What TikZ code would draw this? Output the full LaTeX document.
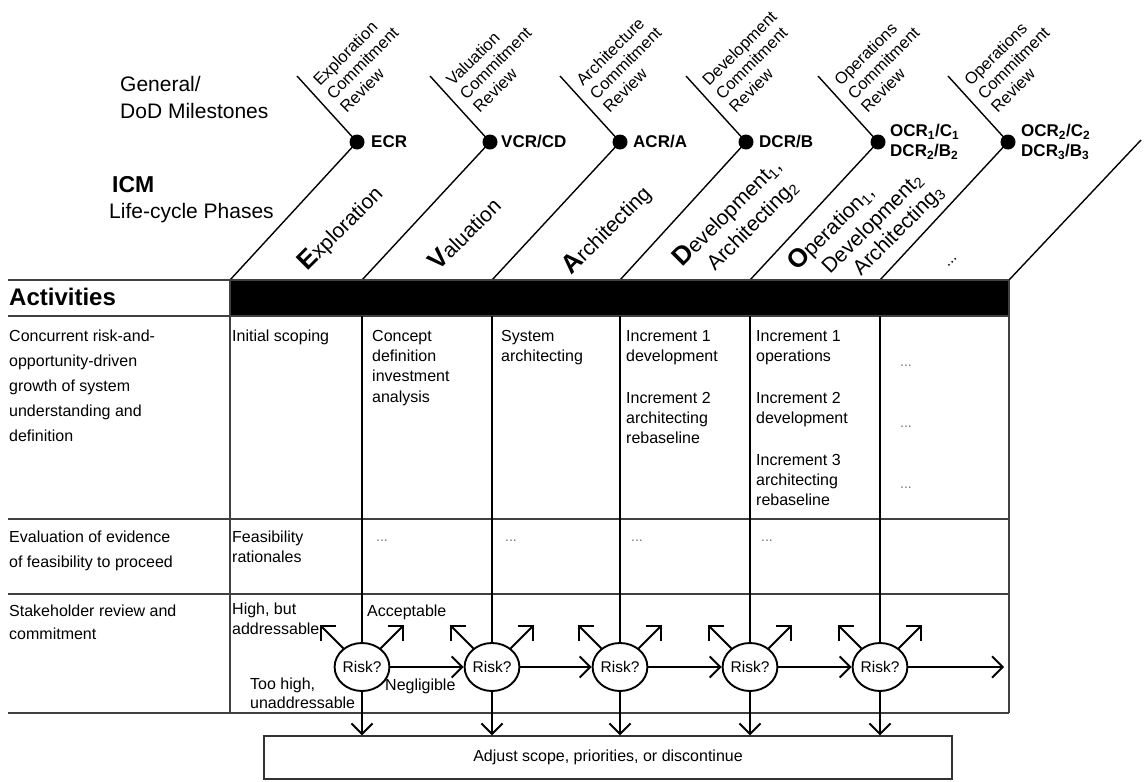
\documentclass[tikz,border=0pt]{standalone}
\usepackage{fontspec}
\setmainfont{Liberation Sans}
\usetikzlibrary{arrows.meta,shapes.geometric,calc}
\newcommand{\fsz}[1]{\fontsize{#1}{#1}\selectfont}
\newcommand{\bigini}[1]{{\fontsize{26}{26}\selectfont\bfseries #1}}
\begin{document}
\begin{tikzpicture}[x=1pt,y=-1pt,
  txt/.style={anchor=base west, inner sep=0pt, font=\fsz{16}},
  hdr/.style={anchor=base west, inner sep=0pt, font=\fsz{21}},
  mslbl/.style={anchor=base west, inner sep=0pt, rotate=45, font=\fsz{16.5}},
  phase/.style={anchor=base west, inner sep=0pt, rotate=45, font=\fsz{21}},
  msname/.style={anchor=west, inner sep=0pt, font=\fontsize{17}{20}\selectfont\bfseries, align=left},
  tbl/.style={line width=1.5pt, draw=black!75},
  diag/.style={line width=1.4pt},
  arr/.style={line width=1.9pt, -{Straight Barb[angle=90:15pt]}},
  risk/.style={ellipse, draw, line width=1.9pt, minimum width=45pt, minimum height=48pt, inner sep=0pt, font=\fsz{15.5}},
  msdot/.style={circle, fill, inner sep=0pt, minimum size=15pt},
  gdots/.style={anchor=base west, inner sep=0pt, font=\fsz{14}, text=black!55},
]
\useasboundingbox (0,0) rectangle (1144,782);

% ---------- header texts
\node[hdr] (g1) at (120,91) {General/};
\node[hdr] (g2) at (120,118) {DoD Milestones};
\node[anchor=base west, inner sep=0pt, font=\fsz{23}\bfseries] (icm) at (112,192) {ICM};
\node[hdr] (lc) at (109,218) {Life-cycle Phases};

% ---------- milestone diagonals and dots
\foreach \b/\d [count=\i] in {230/357, 362/490, 492/620, 620/746, 750/878, 880/1008} {
  \node[msdot] (m\i) at (\d,142) {};
  \coordinate (b\i) at (\b,280);
  \coordinate (t\i) at (\d-60,76);
  \draw[diag] (b\i) -- (m\i.center);
  \draw[diag] (m\i.center) -- (t\i);
}
\coordinate (b7) at (1009,280);
\coordinate (e7) at (1141,140);
\draw[diag] (b7) -- (e7);

% ---------- milestone names
\node[msname] (n1) at ($(m1)+(14,0)$) {ECR};
\node[msname] (n2) at ($(m2)+(11,0)$) {VCR/CD};
\node[msname] (n3) at ($(m3)+(13,0)$) {ACR/A};
\node[msname] (n4) at ($(m4)+(13,0)$) {DCR/B};
\node[msname] (n5) at ($(m5)+(12,0)$) {OCR\textsubscript{1}/C\textsubscript{1}\\DCR\textsubscript{2}/B\textsubscript{2}};
\node[msname] (n6) at ($(m6)+(13,0)$) {OCR\textsubscript{2}/C\textsubscript{2}\\DCR\textsubscript{3}/B\textsubscript{3}};

% ---------- milestone review labels
\foreach \d/\w [count=\i] in {357/Exploration, 490/Valuation, 620/Architecture, 746/Development, 878/Operations, 1008/Operations} {
  \node[mslbl] (ra\i) at (\d-37,87) {\w};
  \node[mslbl] (rb\i) at (\d-23.6,100.4) {Commitment};
  \node[mslbl] (rc\i) at (\d-10.2,113.8) {Review};
}

% ---------- phase labels
\node[phase] (p1) at (307,272) {\bigini{E}xploration};
\node[phase] (p2) at (438,272) {\bigini{V}aluation};
\node[phase] (p3) at (571,276) {\bigini{A}rchitecting};
\node[phase] (p4a) at (682,268) {\bigini{D}evelopment\textsubscript{1},};
\node[phase] (p4b) at (715,272) {Architecting\textsubscript{2}};
\node[phase] (p5a) at (797,272) {\bigini{O}peration\textsubscript{1},};
\node[phase] (p5b) at (830,275) {Development\textsubscript{2}};
\node[phase] (p5c) at (861,277) {Architecting\textsubscript{3}};
\node[phase, font=\fsz{16}] (p6) at (948,268) {...};

% ---------- table
\fill (230,280) rectangle (1009,316);
\draw[tbl] (8,280) -- (1009,280);
\draw[tbl] (8,316) -- (1009,316);
\draw[tbl] (8,519) -- (1009,519);
\draw[tbl] (8,594) -- (1009,594);
\draw[tbl] (8,713) -- (1009,713);
\draw[tbl] (230,280) -- (230,713);
\draw[tbl] (1009,280) -- (1009,713);
\node[anchor=base west, inner sep=0pt, font=\fsz{24}\bfseries] (act) at (9,305) {Activities};

% row 1
\foreach \t [count=\i from 0] in {Concurrent risk-and-, opportunity-driven, growth of system, understanding and, definition}
  \node[txt] (a\i) at (9,341+25*\i) {\t};
\node[txt] (s1) at (232,341) {Initial scoping};
\foreach \t [count=\i from 0] in {Concept, definition, investment, analysis}
  \node[txt] (c\i) at (372,341+20.4*\i) {\t};
\node[txt] (y0) at (501,341) {System};
\node[txt] (y1) at (501,361) {architecting};
\foreach \t/\yy [count=\i] in {Increment 1/341, development/361, Increment 2/403, architecting/423, rebaseline/443}
  \node[txt] (d\i) at (626,\yy) {\t};
\foreach \t/\yy [count=\i] in {Increment 1/341, operations/361, Increment 2/403, development/423, Increment 3/465, architecting/485, rebaseline/505}
  \node[txt] (o\i) at (756,\yy) {\t};
\foreach \yy [count=\i] in {366,427,488}
  \node[gdots] (z\i) at (900,\yy) {...};

% row 2
\node[txt] (e1) at (9,542) {Evaluation of evidence};
\node[txt] (e2) at (9,567) {of feasibility to proceed};
\node[txt] (f1) at (232,542) {Feasibility};
\node[txt] (f2) at (232,562) {rationales};
\foreach \x [count=\i] in {376,505,631,761}
  \node[gdots] (h\i) at (\x,541) {...};

% row 3
\node[txt] (k1) at (9,616) {Stakeholder review and};
\node[txt] (k2) at (9,639) {commitment};
\node[txt] (q1) at (232,614) {High, but};
\node[txt] (q2) at (232,634) {addressable};
\node[txt] (q3) at (367,616) {Acceptable};
\node[txt] (q4) at (250,689) {Too high,};
\node[txt] (q5) at (250,708) {unaddressable};
\node[txt] (q6) at (385,690) {Negligible};

% ---------- bottom box
\node[draw=black!80, line width=1.3pt, minimum width=688pt, minimum height=43pt, inner sep=0pt, font=\fsz{16}] (adj) at (608,757.5) {Adjust scope, priorities, or discontinue};

% ---------- risk decisions
\foreach \x [count=\i] in {362,492,620,750,880} {
  \node[risk] (r\i) at (\x,667) {Risk?};
  \draw[line width=1.2pt] (\x,316) -- (r\i.north);
  \draw[arr] (r\i.135) -- ++(-23,-23);
  \draw[arr] (r\i.45) -- ++(23,-23);
  \draw[arr] (r\i.south) -- (r\i.south |- adj.north);
}
\foreach \i/\j in {1/2, 2/3, 3/4, 4/5}
  \draw[arr] (r\i) -- (r\j);
\coordinate (rend) at (1004,667);
\draw[arr] (r5) -- (rend);
\end{tikzpicture}
\end{document}
